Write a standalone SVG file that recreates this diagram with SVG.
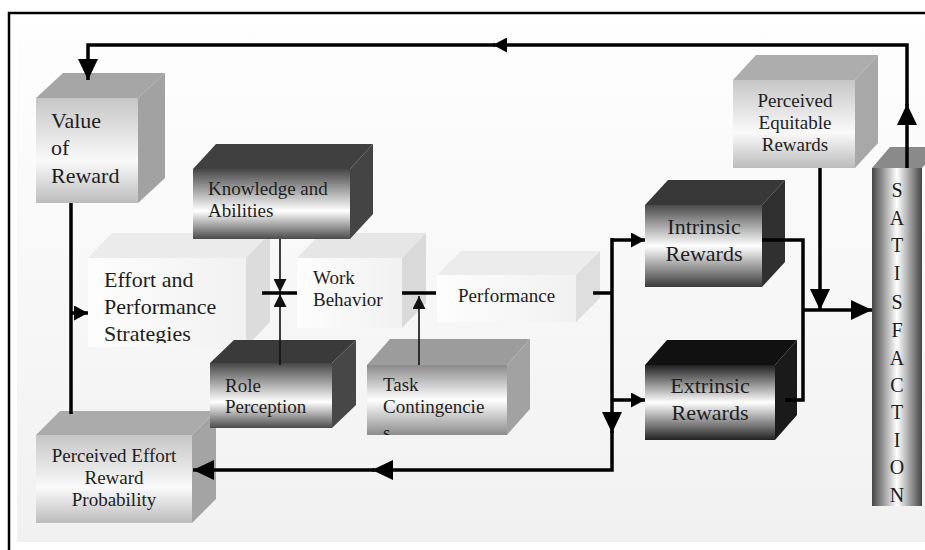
<svg xmlns="http://www.w3.org/2000/svg" width="925" height="550" viewBox="0 0 925 550">
<style>
text{font-family:'Liberation Serif','DejaVu Serif',serif;fill:#1e1e1e}
.b{font-size:22px}.s{font-size:19px}.m{text-anchor:middle}.l{font-size:20px;text-anchor:middle}
.c{fill:none;stroke:#000;stroke-width:3.5}
.t{fill:none;stroke:#111;stroke-width:1.6}
.bar{fill:none;stroke:#000;stroke-width:3.5}
</style>
<defs>
<linearGradient id="bg" x1="0" y1="0" x2="0" y2="1"><stop offset="0" stop-color="#fefefe"/><stop offset="1" stop-color="#f1f1f1"/></linearGradient>
<linearGradient id="gl" x1="0" y1="0" x2="0" y2="1"><stop offset="0" stop-color="#c6c6c6"/><stop offset="0.6" stop-color="#fafafa"/><stop offset="1" stop-color="#bcbcbc"/></linearGradient>
<linearGradient id="gw" x1="0" y1="0" x2="1" y2="0"><stop offset="0" stop-color="#fdfdfd"/><stop offset="1" stop-color="#f1f1f1"/></linearGradient>
<linearGradient id="gd" x1="0" y1="0" x2="0" y2="1"><stop offset="0" stop-color="#464646"/><stop offset="0.6" stop-color="#ffffff"/><stop offset="1" stop-color="#4a4a4a"/></linearGradient>
<linearGradient id="gi" x1="0" y1="0" x2="0" y2="1"><stop offset="0" stop-color="#4a4a4a"/><stop offset="0.5" stop-color="#ffffff"/><stop offset="1" stop-color="#3a3a3a"/></linearGradient>
<linearGradient id="ge" x1="0" y1="0" x2="0" y2="1"><stop offset="0" stop-color="#202020"/><stop offset="0.5" stop-color="#ffffff"/><stop offset="1" stop-color="#222222"/></linearGradient>
<linearGradient id="gt" x1="0" y1="0" x2="0" y2="1"><stop offset="0" stop-color="#8a8a8a"/><stop offset="0.5" stop-color="#ffffff"/><stop offset="1" stop-color="#8c8c8c"/></linearGradient>
<linearGradient id="gs" x1="0" y1="0" x2="1" y2="0"><stop offset="0" stop-color="#454545"/><stop offset="0.5" stop-color="#ffffff"/><stop offset="1" stop-color="#454545"/></linearGradient>
<marker id="big" markerUnits="userSpaceOnUse" markerWidth="21" markerHeight="20" viewBox="0 0 21 20" refX="21" refY="10" orient="auto"><path d="M0,0L21,10L0,20Z" fill="#000"/></marker>
<marker id="med" markerUnits="userSpaceOnUse" markerWidth="14" markerHeight="15" viewBox="0 0 14 15" refX="14" refY="7.5" orient="auto"><path d="M0,0L14,7.5L0,15Z" fill="#000"/></marker>
<marker id="thin" markerUnits="userSpaceOnUse" markerWidth="13" markerHeight="13" viewBox="0 0 13 13" refX="13" refY="6.5" orient="auto"><path d="M0,0L13,6.5L0,13Z" fill="#111"/></marker>
<clipPath id="clipEffort"><rect x="88" y="258" width="158" height="85"/></clipPath>
<clipPath id="clipTask"><rect x="367" y="365" width="140" height="70"/></clipPath>
</defs>
<rect x="0" y="0" width="925" height="550" fill="#fff"/>
<rect x="17" y="20" width="908" height="522" fill="url(#bg)"/>
<path d="M9,550V13H925" fill="none" stroke="#000" stroke-width="2.5"/>

<g id="value-of-reward" font-family="Liberation Serif, serif">
<polygon points="36,98 138,98 165,73 63,73" fill="#a6a6a6"/>
<polygon points="138,98 165,73 165,178 138,203" fill="#a2a2a2"/>
<rect x="36" y="98" width="102" height="105" fill="url(#gl)"/>
<text class="b" x="51" y="128">Value</text><text class="b" x="51" y="155">of</text><text class="b" x="51" y="183">Reward</text>
</g>
<g id="perceived-effort-reward-probability">
<polygon points="36,435 192,435 216,411 60,411" fill="#ababab"/>
<polygon points="192,435 216,411 216,499 192,523" fill="#a4a4a4"/>
<rect x="36" y="435" width="156" height="88" fill="url(#gl)"/>
<text class="s m" x="114" y="462">Perceived Effort</text><text class="s m" x="114" y="484">Reward</text><text class="s m" x="114" y="506">Probability</text>
</g>
<g id="perceived-equitable-rewards">
<polygon points="733,80 855,80 878,55 756,55" fill="#adadad"/>
<polygon points="855,80 878,55 878,143 855,168" fill="#a8a8a8"/>
<rect x="733" y="80" width="122" height="88" fill="url(#gl)"/>
<text class="s m" x="795" y="107">Perceived</text><text class="s m" x="795" y="129">Equitable</text><text class="s m" x="795" y="151">Rewards</text>
</g>
<g id="effort-and-performance-strategies">
<polygon points="88,258 246,258 270,233 112,233" fill="#ebebeb"/>
<polygon points="246,258 270,233 270,322 246,347" fill="#dcdcdc"/>
<rect x="88" y="258" width="158" height="89" fill="url(#gw)"/>
<g clip-path="url(#clipEffort)"><text class="b" x="104" y="287">Effort and</text><text class="b" x="104" y="314">Performance</text><text class="b" x="104" y="341">Strategies</text></g>
</g>
<g id="work-behavior">
<polygon points="297,258 402,258 426,233 321,233" fill="#e6e6e6"/>
<polygon points="402,258 426,233 426,303 402,328" fill="#dadada"/>
<rect x="297" y="258" width="105" height="70" fill="url(#gw)"/>
<text class="s" x="313" y="284">Work</text><text class="s" x="313" y="306">Behavior</text>
</g>
<g id="performance">
<polygon points="437,275 576,275 600,251 461,251" fill="#ececec"/>
<polygon points="576,275 600,251 600,298 576,322" fill="#dedede"/>
<rect x="437" y="275" width="139" height="47" fill="url(#gw)"/>
<text class="s" x="458" y="302">Performance</text>
</g>
<g id="knowledge-and-abilities">
<polygon points="193,169 350,169 373,144 216,144" fill="#404040"/>
<polygon points="350,169 373,144 373,214 350,239" fill="#444"/>
<rect x="193" y="169" width="157" height="70" fill="url(#gd)"/>
<text class="s" x="208" y="195">Knowledge and</text><text class="s" x="208" y="217">Abilities</text>
</g>
<g id="role-perception">
<polygon points="210,363 332,363 356,340 234,340" fill="#3a3a3a"/>
<polygon points="332,363 356,340 356,405 332,428" fill="#474747"/>
<rect x="210" y="363" width="122" height="65" fill="url(#gd)"/>
<text class="s" x="225" y="392">Role</text><text class="s" x="225" y="413">Perception</text>
</g>
<g id="task-contingencies">
<polygon points="367,365 507,365 530,339 390,339" fill="#9c9c9c"/>
<polygon points="507,365 530,339 530,409 507,435" fill="#a2a2a2"/>
<rect x="367" y="365" width="140" height="70" fill="url(#gt)"/>
<g clip-path="url(#clipTask)"><text class="s" x="383" y="391">Task</text><text class="s" x="383" y="413">Contingencie</text><text class="s" x="383" y="439">s</text></g>
</g>
<g id="intrinsic-rewards">
<polygon points="645,205 762,205 785,180 668,180" fill="#383838"/>
<polygon points="762,205 785,180 785,262 762,287" fill="#303030"/>
<rect x="645" y="205" width="117" height="82" fill="url(#gi)"/>
<text class="b m" x="704" y="234">Intrinsic</text><text class="b m" x="704" y="261">Rewards</text>
</g>
<g id="extrinsic-rewards">
<polygon points="645,365 775,365 797,340 667,340" fill="#111"/>
<polygon points="775,365 797,340 797,415 775,440" fill="#1a1a1a"/>
<rect x="645" y="365" width="130" height="75" fill="url(#ge)"/>
<text class="b m" x="710" y="393">Extrinsic</text><text class="b m" x="710" y="420">Rewards</text>
</g>
<g id="satisfaction">
<polygon points="872,168 922,168 940,147 890,147" fill="#8a8a8a"/>
<rect x="872" y="168" width="50" height="338" fill="url(#gs)"/>
<text class="l" x="897" y="197">S</text>
<text class="l" x="897" y="225">A</text>
<text class="l" x="897" y="252">T</text>
<text class="l" x="897" y="280">I</text>
<text class="l" x="897" y="309">S</text>
<text class="l" x="897" y="337">F</text>
<text class="l" x="897" y="365">A</text>
<text class="l" x="897" y="392">C</text>
<text class="l" x="897" y="419">T</text>
<text class="l" x="897" y="447">I</text>
<text class="l" x="897" y="474">O</text>
<text class="l" x="897" y="502">N</text>
</g>

<g id="connectors">
<path class="c" d="M907,168V104" marker-end="url(#big)"/>
<path class="c" d="M907,106V45H493" marker-end="url(#med)"/>
<path class="c" d="M495,45H88V80" marker-end="url(#big)"/>
<path class="c" d="M71,203V414"/>
<path class="c" d="M71,313H88" marker-end="url(#med)"/>
<path class="t" d="M280,239V292" marker-end="url(#thin)"/>
<path class="t" d="M280,365V294" marker-end="url(#thin)"/>
<path class="bar" d="M262,293H297"/>
<path class="t" d="M419,365V296" marker-end="url(#thin)"/>
<path class="bar" d="M402,293H436"/>
<path class="c" d="M593,293H612"/>
<path class="c" d="M612,240H645" marker-end="url(#med)"/>
<path class="c" d="M612,400H645" marker-end="url(#med)"/>
<path class="c" d="M612,238V433" marker-end="url(#big)"/>
<path class="c" d="M612,431V470H372" marker-end="url(#big)"/>
<path class="c" d="M374,470H193" marker-end="url(#big)"/>
<path class="c" d="M762,240H803V400H785"/>
<path class="c" d="M803,310H872" marker-end="url(#big)"/>
<path class="c" d="M820,168V310" marker-end="url(#big)"/>
</g>
</svg>
